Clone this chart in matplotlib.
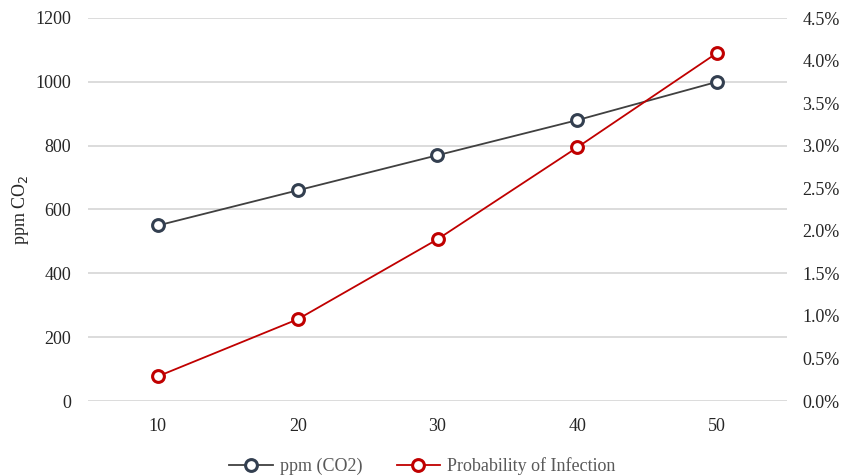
import matplotlib.pyplot as plt
from matplotlib.ticker import FuncFormatter

plt.rcParams['font.family'] = ['Liberation Serif', 'DejaVu Serif']

occupants = ['10', '20', '30', '40', '50']
ppm_co2 = [550, 660, 770, 880, 1000]
infection_pct = [0.29, 0.96, 1.90, 2.98, 4.09]

x = list(range(len(occupants)))

fig = plt.figure(figsize=(8.45, 4.76), dpi=100)
ax = fig.add_axes([88 / 845, 1 - 401 / 476, 699 / 845, 383 / 476])
ax2 = ax.twinx()

l1, = ax.plot(x, ppm_co2, '-o', color='#404040', lw=1.3, ms=8.5,
              mfc='white', mec='#333F50', mew=2.2, label='ppm (CO2)', zorder=3)
l2, = ax2.plot(x, infection_pct, '-o', color='#C00000', lw=1.3, ms=8.5,
               mfc='white', mec='#C00000', mew=2.2, label='Probability of Infection', zorder=3)

ax.set_xlim(-0.5, 4.5)
ax.set_ylim(0, 1200)
ax.set_yticks(range(0, 1201, 200))
ax.set_xticks(x)
ax.set_xticklabels(occupants)
ax2.set_ylim(0, 4.5)
ax2.set_yticks([i * 0.5 for i in range(10)])
ax2.yaxis.set_major_formatter(FuncFormatter(lambda v, p: f'{v:.1f}%'))

ax.grid(axis='y', color='#D9D9D9', lw=1.3)
ax.set_axisbelow(True)
for a in (ax, ax2):
    for s in a.spines.values():
        s.set_visible(False)
    a.tick_params(length=0, labelsize=13, colors='#262626')
ax.tick_params(axis='y', pad=12)
ax.tick_params(axis='x', pad=12)
ax2.tick_params(axis='y', pad=11)
ax.set_ylabel('ppm CO$_2$', fontsize=13, color='#262626', labelpad=3)

fig.legend(handles=[l1, l2], loc='center', bbox_to_anchor=(0.5, 1 - 466 / 476),
           ncol=2, frameon=False, fontsize=13, labelcolor='#595959',
           handlelength=2.4, columnspacing=1.9, handletextpad=0.4)

fig.savefig('out.png', dpi=100)
